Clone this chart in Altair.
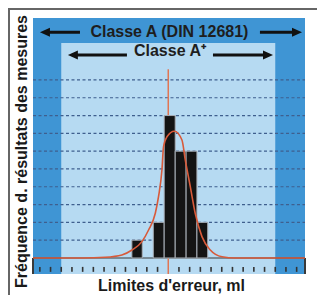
import altair as alt
import pandas as pd

# ---------------- data ----------------
x_domain = [-12.64, 12.78]
y_domain = [-0.9, 13.48]

# histogram
bin_left = [-3.4, -1.4, -0.38, 0.65, 1.67, 2.68]
bin_right = [-2.43, -0.38, 0.65, 1.67, 2.68, 3.69]
counts = [1, 2, 8, 6, 6, 2]

# fitted distribution curve
curve_x = [-12.64, -8.0, -5.9, -4.33, -3.39, -2.46, -1.84, -1.21, -0.91, -0.59,
           -0.44, -0.12, 0.57, 1.28, 1.59, 2.06, 2.52, 3.15, 3.93, 5.02, 6.26, 8.0, 12.78]
curve_y = [0.0, 0.0, 0.04, 0.17, 0.45, 0.92, 1.57, 2.51, 3.44, 4.94,
           6.25, 6.81, 7.12, 6.63, 5.51, 4.01, 2.51, 1.20, 0.45, 0.07, 0.0, 0.0, 0.0]

grid_levels = list(range(1, 11))
tick_positions = [k for k in range(-12, 13) if k != 0]

# tolerance zones
zone_aplus = [-10.0, 10.0]
zone_top_aplus = 12.08
tick_band = [-0.9, 0.0]
tick_len = [-0.5, -0.78]
center_line = [0.0, 10.6]

# arrows: row, tail, tip
arrow_row = [12.68, 12.68, 11.4, 11.4]
arrow_tail = [-8.25, 8.57, -3.86, 4.18]
arrow_tip = [-11.99, 12.5, -9.38, 9.79]

labels = ["Classe A (DIN 12681)", "Classe A\u207a"]
label_x = [0.11, 0.16]
label_y = [12.43, 11.32]

x_title = "Limites d'erreur, ml"
y_title = "Fréquence d. résultats des mesures"

# ---------------- styles ----------------
FONT = "Liberation Sans"
OUTER_BLUE = "#3f95d4"
INNER_BLUE = "#b6daf2"
GRID = "#3f5f8e"
RED = "#d85a3a"

xs = alt.Scale(domain=x_domain, nice=False, zero=False)
ys = alt.Scale(domain=y_domain, nice=False, zero=False)

xaxis = alt.Axis(title=x_title, labels=False, ticks=False, domain=False, grid=False,
                 titleFont=FONT, titleFontSize=16, titleFontWeight="bold",
                 titleColor="#1a1a1a", titleBaseline="alphabetic", titleY=16, titleX=138)
yaxis = alt.Axis(title=y_title, labels=False, ticks=False, domain=False, grid=False,
                 titleFont=FONT, titleFontSize=16, titleFontWeight="bold",
                 titleColor="#1a1a1a", titleBaseline="alphabetic", titleX=-7, titleY=133)


def X(f):
    return alt.X(f, type="quantitative", scale=xs, axis=xaxis, title=x_title)


def Y(f):
    return alt.Y(f, type="quantitative", scale=ys, axis=yaxis, title=y_title)


inner_df = pd.DataFrame({"x": [zone_aplus[0]], "x2": [zone_aplus[1]],
                         "y": [y_domain[0]], "y2": [zone_top_aplus]})
inner = alt.Chart(inner_df).mark_rect(color=INNER_BLUE).encode(
    x=X("x"), x2="x2", y=Y("y"), y2="y2")

# outline of the tick band: top line and the two side edges
band_top_df = pd.DataFrame({"x": [x_domain[0]], "x2": [x_domain[1]], "y": [tick_band[1]]})
band_top = alt.Chart(band_top_df).mark_rule(color="#3a3a3a", strokeWidth=1.2).encode(
    x=X("x"), x2="x2", y=Y("y"))
band_side_df = pd.DataFrame({"x": x_domain, "y": tick_band[0], "y2": tick_band[1]})
band_side = alt.Chart(band_side_df).mark_rule(color="#3a3a3a", strokeWidth=2).encode(
    x=X("x"), y=Y("y"), y2="y2")

grid_df = pd.DataFrame({"y": grid_levels, "x": x_domain[0], "x2": x_domain[1]})
grid = alt.Chart(grid_df).mark_rule(color=GRID, strokeDash=[3, 2.5], strokeWidth=1.2).encode(
    x=X("x"), x2="x2", y=Y("y"))

ticks_df = pd.DataFrame({"x": tick_positions, "y": tick_len[0], "y2": tick_len[1]})
ticks = alt.Chart(ticks_df).mark_rule(color="#333333", strokeWidth=1.6).encode(
    x=X("x"), y=Y("y"), y2="y2")

cl_df = pd.DataFrame({"x": [0.0], "y": [y_domain[0]], "y2": [center_line[1]]})
cline = alt.Chart(cl_df).mark_rule(color="#e07654", strokeWidth=1.5).encode(
    x=X("x"), y=Y("y"), y2="y2")

bars_df = pd.DataFrame({"x": bin_left, "x2": bin_right, "n": counts})
bars = alt.Chart(bars_df).mark_rect(color="#141414", stroke="#a9b0b8", strokeWidth=1).encode(
    x=X("x"), x2="x2", y=alt.Y("base:Q", scale=ys, axis=yaxis, title=y_title), y2="n"
).transform_calculate(base="0")

curve_df = pd.DataFrame({"x": curve_x, "y": curve_y})
curve = alt.Chart(curve_df).mark_line(color=RED, strokeWidth=1.6, interpolate="monotone").encode(
    x=X("x"), y=Y("y"))

arr_df = pd.DataFrame({"y": arrow_row, "tail": arrow_tail, "tip": arrow_tip})
arr_df["end"] = [t - (0.6 if t > s else -0.6) for s, t in zip(arrow_tail, arrow_tip)]
arr_df["dir"] = ["L" if t < s else "R" for s, t in zip(arrow_tail, arrow_tip)]
shafts = alt.Chart(arr_df).mark_rule(color="#111111", strokeWidth=3).encode(
    x=X("tail"), x2="end", y=Y("y"))
heads_r = alt.Chart(arr_df).transform_filter("datum.dir == 'R'").mark_point(
    shape="M0,0L-2,-0.9L-2,0.9Z", filled=True, color="#111111", opacity=1, size=100,
    strokeWidth=0).encode(x=X("tip"), y=Y("y"))
heads_l = alt.Chart(arr_df).transform_filter("datum.dir == 'L'").mark_point(
    shape="M0,0L2,-0.9L2,0.9Z", filled=True, color="#111111", opacity=1, size=100,
    strokeWidth=0).encode(x=X("tip"), y=Y("y"))

lab_df = pd.DataFrame({"t": labels, "x": label_x, "y": label_y})
texts = alt.Chart(lab_df).mark_text(font=FONT, fontSize=16, fontWeight="bold",
                                    color="#1e1e1e", baseline="alphabetic", align="center").encode(
    x=X("x"), y=Y("y"), text="t:N")

frame_top = alt.Chart(pd.DataFrame({"a": [0]})).mark_rule(color="#666666", strokeWidth=2).encode(
    x=alt.value(-25), x2=alt.value(284), y=alt.value(-9))
frame_left = alt.Chart(pd.DataFrame({"a": [0]})).mark_rule(color="#666666", strokeWidth=2).encode(
    x=alt.value(-24), y=alt.value(-10), y2=alt.value(277))

chart = alt.layer(
    inner, band_top, band_side, grid, ticks, cline, bars, curve, shafts, heads_r, heads_l, texts,
    frame_top, frame_left
).properties(
    width=272, height=256,
    padding={"left": 25, "top": 10, "right": 12, "bottom": 21},
    autosize=alt.AutoSizeParams(type="none"),
    background="white",
).configure_view(fill=OUTER_BLUE, strokeWidth=0)

chart.save("out.html", embed_options={"renderer": "svg", "actions": False})
